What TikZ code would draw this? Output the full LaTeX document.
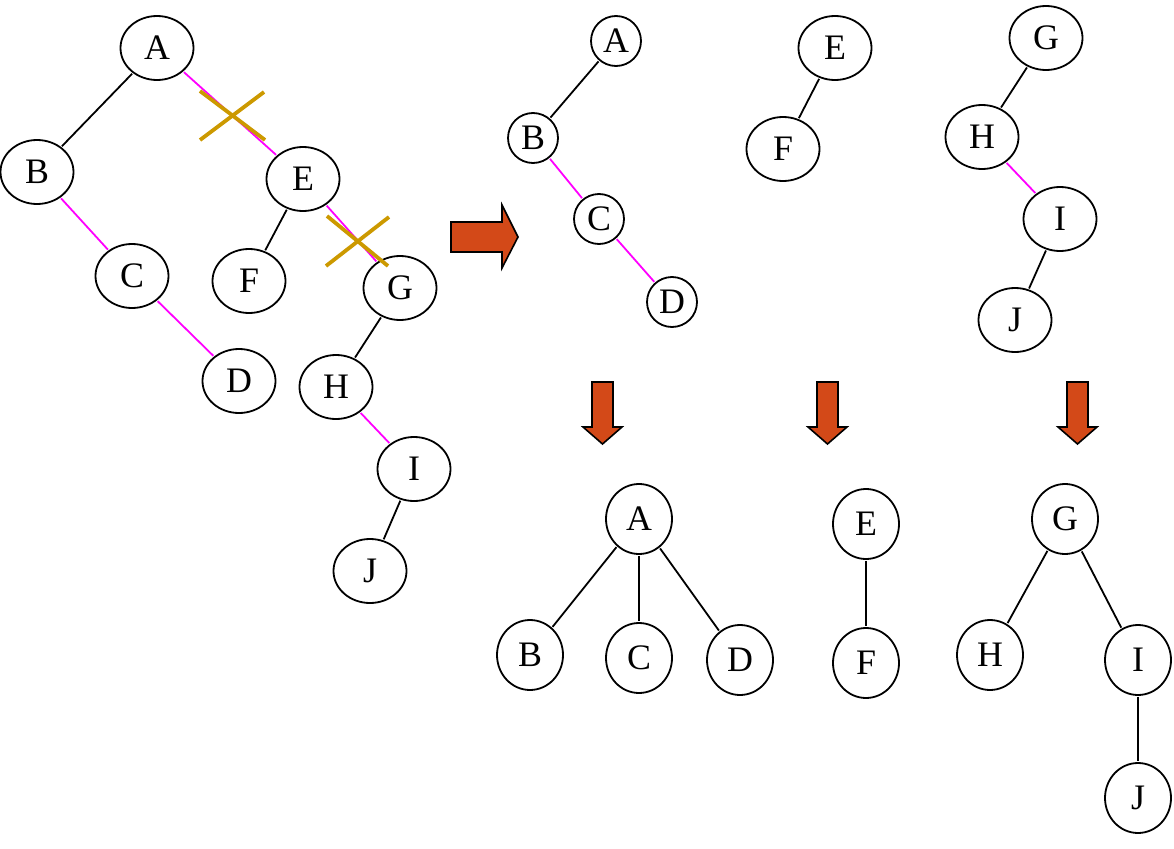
\documentclass[tikz,border=0pt]{standalone}
\usepackage{fontspec}
\setmainfont{Liberation Serif}
\usetikzlibrary{shapes.geometric}
\definecolor{mag}{RGB}{255,0,255}
\definecolor{gold}{RGB}{204,153,0}
\definecolor{arrfill}{RGB}{211,73,24}
\tikzset{
  en/.style={draw, ellipse, line width=1.8bp, inner sep=0pt, minimum width=73bp, minimum height=64bp, font=\fontsize{36}{40}\selectfont},
  cn/.style={draw, circle, line width=1.8bp, inner sep=0pt, minimum size=50bp, font=\fontsize{36}{40}\selectfont},
  bn/.style={draw, ellipse, line width=1.8bp, inner sep=0pt, minimum width=66bp, minimum height=70bp, font=\fontsize{36}{40}\selectfont},
  bl/.style={draw=black, line width=1.8bp, shorten <=1bp, shorten >=1bp},
  mg/.style={draw=mag, line width=1.8bp, shorten <=1bp, shorten >=1bp},
  crossline/.style={draw=gold, line width=3.8bp},
  bigarrow/.style={fill=arrfill, draw=black, line width=1.6bp, line join=miter},
}
\begin{document}
\begin{tikzpicture}[x=1bp, y=-1bp]
\useasboundingbox (0,0) rectangle (1174,849);
% ---- left tree ----
\node[en] (LA) at (157,48) {A};
\node[en] (LB) at (37,172) {B};
\node[en] (LE) at (303,179) {E};
\node[en] (LC) at (132,276) {C};
\node[en] (LF) at (249,281) {F};
\node[en] (LG) at (400,288) {G};
\node[en] (LD) at (239,381) {D};
\node[en] (LH) at (336,387) {H};
\node[en] (LI) at (414,469) {I};
\node[en] (LJ) at (370,571) {J};
\draw[bl] (LA) -- (LB);
\draw[mg] (LA) -- (LE);
\draw[mg] (LB) -- (LC);
\draw[mg] (LC) -- (LD);
\draw[bl] (LE) -- (LF);
\draw[mg] (LE) -- (LG);
\draw[bl] (LG) -- (LH);
\draw[mg] (LH) -- (LI);
\draw[bl] (LI) -- (LJ);
% crosses
\coordinate (X1a) at (200,140); \coordinate (X1b) at (264,92);
\coordinate (X1c) at (200,91);  \coordinate (X1d) at (265,140);
\draw[crossline] (X1a) -- (X1b);
\draw[crossline] (X1c) -- (X1d);
\coordinate (X2a) at (326,266); \coordinate (X2b) at (389,217);
\coordinate (X2c) at (327,216); \coordinate (X2d) at (388,266);
\draw[crossline] (X2a) -- (X2b);
\draw[crossline] (X2c) -- (X2d);
% ---- right arrow ----
\draw[bigarrow] (451,222) -- (502,222) -- (502,205) -- (518,237) -- (502,268) -- (502,252) -- (451,252) -- cycle;
% ---- top middle trees ----
\node[cn] (MA) at (616,41) {A};
\node[cn] (MB) at (533,138) {B};
\node[cn] (MC) at (599,219) {C};
\node[cn] (MD) at (672,302) {D};
\draw[bl] (MA) -- (MB);
\draw[mg] (MB) -- (MC);
\draw[mg] (MC) -- (MD);
\node[en] (ME) at (835,48) {E};
\node[en] (MF) at (783,149) {F};
\draw[bl] (ME) -- (MF);
\node[en] (MG) at (1046,38) {G};
\node[en] (MH) at (982,137) {H};
\node[en] (MI) at (1060,219) {I};
\node[en] (MJ) at (1015,320) {J};
\draw[bl] (MG) -- (MH);
\draw[mg] (MH) -- (MI);
\draw[bl] (MI) -- (MJ);
% ---- down arrows ----
\foreach \dx in {0,225,475} {
  \draw[bigarrow] (592+\dx,382) -- (613+\dx,382) -- (613+\dx,427) -- (622+\dx,427) -- (602.5+\dx,444) -- (583+\dx,427) -- (592+\dx,427) -- cycle;
}
% ---- bottom trees ----
\node[bn] (BA) at (639,519) {A};
\node[bn] (BB) at (530,655) {B};
\node[bn] (BC) at (639,658) {C};
\node[bn] (BD) at (740,660) {D};
\draw[bl] (BA) -- (BB);
\draw[bl] (BA) -- (BC);
\draw[bl] (BA) -- (BD);
\node[bn] (BE) at (866,524) {E};
\node[bn] (BF) at (866,663) {F};
\draw[bl] (BE) -- (BF);
\node[bn] (BG) at (1065,519) {G};
\node[bn] (BH) at (990,655) {H};
\node[bn] (BI) at (1138,660) {I};
\node[bn] (BJ) at (1138,798) {J};
\draw[bl] (BG) -- (BH);
\draw[bl] (BG) -- (BI);
\draw[bl] (BI) -- (BJ);
\end{tikzpicture}
\end{document}
